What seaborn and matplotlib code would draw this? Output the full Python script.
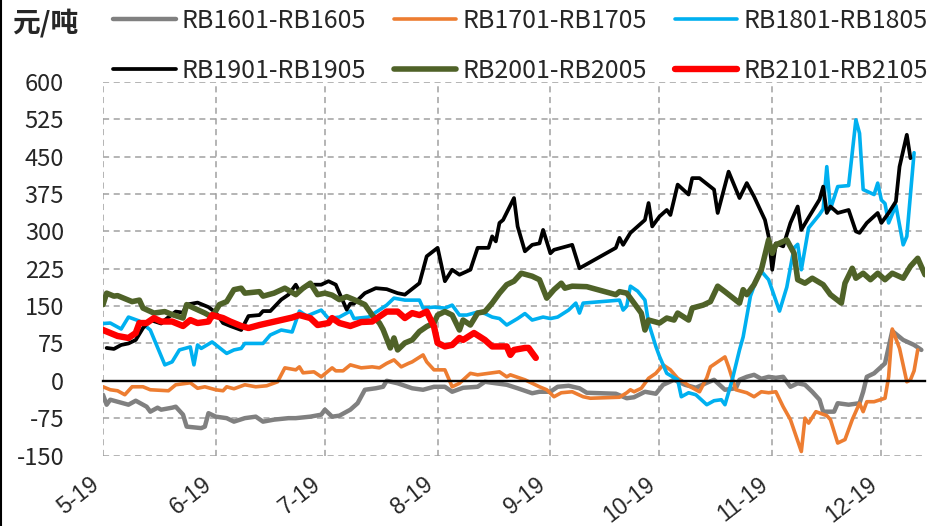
import pandas as pd
import matplotlib
matplotlib.use("Agg")
import matplotlib.pyplot as plt
import matplotlib.dates as mdates
import matplotlib.transforms as mtransforms
from matplotlib.lines import Line2D
import seaborn as sns

YEAR = "2020"

# spread series, dates as month-day
d1601 = ["05-19", "05-20", "05-21", "05-23", "05-26", "05-28", "05-31", "06-01", "06-03", "06-04",
         "06-07", "06-08", "06-10", "06-11", "06-15", "06-16", "06-17", "06-19", "06-22", "06-24",
         "06-27", "06-30", "07-02", "07-05", "07-09", "07-11", "07-15", "07-18", "07-19", "07-21",
         "07-23", "07-26", "07-28", "07-30", "08-02", "08-04", "08-05", "08-08", "08-12", "08-15",
         "08-18", "08-21", "08-23", "08-26", "08-30", "09-01", "09-05", "09-07", "09-10", "09-14",
         "09-16", "09-19", "09-21", "09-24", "09-27", "09-29", "10-07", "10-10", "10-12", "10-15",
         "10-18", "10-20", "10-23", "10-26", "10-29", "11-01", "11-03", "11-06", "11-09", "11-10",
         "11-12", "11-14", "11-16", "11-18", "11-20", "11-22", "11-24", "11-26", "11-28", "11-30",
         "12-02", "12-03", "12-06", "12-07", "12-10", "12-13", "12-14", "12-15", "12-17", "12-20",
         "12-22", "12-25", "12-28", "12-30"]
v1601 = [-28, -48, -38, -42, -48, -40, -52, -62, -54, -58,
         -54, -52, -68, -92, -95, -92, -65, -72, -75, -82,
         -75, -72, -82, -78, -75, -75, -72, -68, -58, -72,
         -70, -58, -45, -18, -15, -12, 0, -5, -15, -18,
         -12, -12, -22, -14, -12, -2, -6, -8, -15, -25,
         -22, -22, -12, -10, -15, -24, -26, -35, -33, -22,
         -26, -8, 2, -8, -14, -4, 2, -18, -15, 2,
         8, 12, 4, 8, 6, 8, -12, -5, -8, -22,
         -38, -62, -62, -45, -48, -45, -22, 8, 15, 35,
         100, 82, 72, 62]

d1701 = ["05-19", "05-21", "05-23", "05-25", "05-27", "05-30", "06-01", "06-06", "06-08", "06-12",
         "06-14", "06-16", "06-19", "06-21", "06-22", "06-24", "06-27", "06-30", "07-03", "07-06",
         "07-08", "07-11", "07-12", "07-13", "07-16", "07-18", "07-21", "07-22", "07-24", "07-26",
         "07-29", "08-01", "08-03", "08-05", "08-07", "08-09", "08-11", "08-12", "08-15", "08-16",
         "08-18", "08-21", "08-23", "08-25", "08-28", "08-30", "09-05", "09-07", "09-08", "09-12",
         "09-16", "09-18", "09-20", "09-22", "09-25", "09-28", "09-30", "10-08", "10-10", "10-11",
         "10-12", "10-14", "10-16", "10-18", "10-20", "10-22", "10-24", "10-26", "10-27", "10-30",
         "11-01", "11-02", "11-06", "11-07", "11-09", "11-12", "11-14", "11-16", "11-18", "11-20",
         "11-22", "11-24", "11-27", "11-28", "11-29", "12-01", "12-04", "12-05", "12-07", "12-09",
         "12-11", "12-13", "12-14", "12-15", "12-17", "12-20", "12-21", "12-22", "12-24", "12-26",
         "12-27", "12-28", "12-29"]
v1701 = [-12, -18, -20, -28, -12, -12, -18, -20, -8, -4,
         -15, -12, -18, -20, -12, -16, -8, -12, -10, -2,
         26, 22, 28, 16, 18, 8, 26, 20, 20, 32,
         26, 28, 26, 35, 42, 28, 35, 38, 52, 38,
         22, 22, -12, -5, 15, 12, 18, 8, 12, 2,
         -12, -18, -32, -24, -22, -32, -35, -33, -24, -18,
         -22, -15, 5, 15, 32, 22, 5, -4, -10, -22,
         6, 28, 48, 28, -18, -24, -32, -22, -24, -22,
         -52, -78, -142, -75, -85, -62, -70, -78, -125, -118,
         -78, -45, -62, -42, -42, -35, 8, 104, 65, -2,
         2, 20, 62]

d1801 = ["05-19", "05-21", "05-24", "05-26", "05-29", "06-01", "06-05", "06-07", "06-09", "06-12",
         "06-13", "06-14", "06-15", "06-18", "06-22", "06-24", "06-26", "06-27", "06-30", "07-02",
         "07-04", "07-07", "07-10", "07-12", "07-14", "07-18", "07-20", "07-23", "07-26", "07-27",
         "07-31", "08-05", "08-07", "08-10", "08-14", "08-15", "08-18", "08-21", "08-23", "08-25",
         "08-27", "08-30", "09-01", "09-03", "09-05", "09-07", "09-10", "09-12", "09-14", "09-17",
         "09-19", "09-21", "09-24", "09-26", "09-27", "09-28", "10-08", "10-09", "10-10", "10-11",
         "10-13", "10-15", "10-16", "10-18", "10-19", "10-21", "10-24", "10-25", "10-27", "10-29",
         "11-01", "11-03", "11-05", "11-06", "11-08", "11-10", "11-11", "11-13", "11-15", "11-16",
         "11-18", "11-21", "11-23", "11-25", "11-26", "11-27", "11-29", "12-02", "12-03", "12-04",
         "12-05", "12-07", "12-10", "12-12", "12-13", "12-14", "12-17", "12-18", "12-19", "12-20",
         "12-21", "12-23", "12-25", "12-26", "12-28"]
v1801 = [115, 116, 104, 128, 120, 102, 32, 38, 62, 68,
         32, 72, 65, 78, 55, 62, 65, 75, 75, 75,
         92, 102, 98, 140, 130, 142, 125, 128, 140, 125,
         128, 152, 166, 162, 162, 146, 148, 146, 152, 132,
         132, 138, 135, 128, 125, 112, 125, 135, 122, 128,
         125, 128, 142, 156, 136, 156, 162, 142, 150, 190,
         180, 162, 116, 69, 49, 15, 2, -32, -24, -28,
         -48, -40, -38, -48, 2, 62, 88, 170, 210, 220,
         203, 140, 188, 267, 274, 223, 307, 334, 345, 430,
         345, 390, 392, 524, 497, 384, 374, 397, 363, 356,
         317, 352, 273, 290, 458]

d1901 = ["05-20", "05-22", "05-24", "05-26", "05-28", "05-30", "06-01", "06-04", "06-05", "06-08",
         "06-10", "06-11", "06-14", "06-17", "06-19", "06-21", "06-23", "06-26", "06-28", "07-01",
         "07-02", "07-04", "07-07", "07-09", "07-11", "07-12", "07-14", "07-16", "07-18", "07-20",
         "07-22", "07-23", "07-25", "07-26", "07-27", "07-30", "08-02", "08-05", "08-08", "08-10",
         "08-14", "08-15", "08-16", "08-19", "08-21", "08-23", "08-25", "08-28", "08-30", "09-02",
         "09-03", "09-04", "09-05", "09-06", "09-09", "09-10", "09-12", "09-14", "09-16", "09-17",
         "09-19", "09-20", "09-25", "09-27", "10-07", "10-08", "10-09", "10-11", "10-13", "10-15",
         "10-16", "10-17", "10-19", "10-21", "10-22", "10-24", "10-27", "10-28", "10-30", "11-03",
         "11-04", "11-07", "11-10", "11-12", "11-14", "11-17", "11-18", "11-19", "11-20", "11-22",
         "11-24", "11-26", "11-27", "11-29", "12-02", "12-03", "12-04", "12-05", "12-07", "12-10",
         "12-12", "12-13", "12-15", "12-18", "12-19", "12-21", "12-23", "12-24", "12-26", "12-27"]
v1901 = [66, 64, 72, 75, 82, 106, 122, 115, 122, 139,
         137, 153, 157, 148, 137, 116, 110, 102, 130, 132,
         140, 140, 163, 173, 193, 180, 190, 193, 193, 200,
         193, 176, 143, 155, 155, 176, 186, 184, 176, 173,
         196, 223, 250, 267, 200, 223, 213, 223, 267, 267,
         290, 280, 317, 323, 367, 310, 260, 273, 276, 303,
         256, 263, 273, 226, 267, 287, 273, 297, 310, 323,
         357, 310, 330, 343, 333, 394, 374, 407, 407, 384,
         337, 420, 367, 397, 370, 323, 290, 223, 276, 270,
         317, 350, 303, 328, 364, 390, 337, 350, 337, 343,
         300, 297, 317, 337, 317, 337, 360, 430, 494, 447]

d2001 = ["05-19", "05-20", "05-22", "05-23", "05-25", "05-27", "05-29", "05-30", "06-02", "06-05",
         "06-07", "06-10", "06-11", "06-13", "06-16", "06-18", "06-20", "06-22", "06-24", "06-26",
         "06-27", "07-01", "07-02", "07-05", "07-08", "07-11", "07-13", "07-15", "07-17", "07-19",
         "07-21", "07-23", "07-25", "07-27", "07-30", "08-01", "08-03", "08-04", "08-06", "08-07",
         "08-08", "08-10", "08-12", "08-14", "08-16", "08-18", "08-19", "08-21", "08-23", "08-25",
         "08-26", "08-28", "08-30", "09-01", "09-03", "09-05", "09-07", "09-09", "09-11", "09-14",
         "09-16", "09-18", "09-20", "09-22", "09-23", "09-25", "09-29", "10-07", "10-08", "10-10",
         "10-12", "10-14", "10-15", "10-16", "10-19", "10-21", "10-23", "10-24", "10-27", "10-28",
         "10-31", "11-02", "11-04", "11-06", "11-10", "11-11", "11-12", "11-14", "11-16", "11-18",
         "11-19", "11-20", "11-23", "11-25", "11-26", "11-28", "11-30", "12-03", "12-05", "12-08",
         "12-09", "12-11", "12-12", "12-14", "12-16", "12-18", "12-20", "12-22", "12-25", "12-27",
         "12-29", "12-31"]
v2001 = [153, 176, 170, 171, 165, 159, 162, 146, 136, 139,
         133, 126, 153, 146, 136, 128, 153, 159, 183, 186,
         176, 179, 170, 176, 186, 173, 186, 196, 173, 176,
         172, 163, 169, 163, 153, 132, 116, 103, 66, 86,
         62, 76, 82, 99, 109, 116, 132, 139, 132, 102,
         122, 112, 136, 139, 156, 176, 193, 200, 216, 210,
         203, 166, 183, 196, 186, 190, 189, 173, 179, 176,
         156, 136, 102, 122, 116, 126, 122, 136, 122, 146,
         152, 159, 190, 179, 156, 183, 173, 193, 223, 283,
         256, 273, 283, 256, 203, 196, 206, 193, 173, 156,
         196, 226, 206, 216, 203, 216, 203, 216, 206, 230,
         246, 213]

d2101 = ["05-19", "05-20", "05-23", "05-26", "05-28", "05-29", "05-31", "06-02", "06-04", "06-07",
         "06-10", "06-12", "06-14", "06-17", "06-18", "06-21", "06-23", "06-26", "06-28", "07-01",
         "07-04", "07-07", "07-10", "07-12", "07-15", "07-17", "07-20", "07-21", "07-23", "07-26",
         "07-29", "08-01", "08-05", "08-08", "08-10", "08-12", "08-14", "08-16", "08-18", "08-19",
         "08-21", "08-23", "08-25", "08-26", "08-29", "09-01", "09-03", "09-07", "09-08", "09-09",
         "09-12", "09-13", "09-14", "09-15"]
v2101 = [102, 99, 90, 86, 96, 116, 116, 126, 119, 119,
         110, 122, 116, 119, 132, 126, 119, 110, 106, 112,
         117, 122, 127, 132, 126, 112, 116, 126, 116, 110,
         118, 119, 139, 139, 126, 136, 132, 139, 109, 76,
         69, 72, 86, 82, 96, 82, 69, 69, 52, 62,
         66, 66, 56, 46]

SERIES = ["RB1601-RB1605", "RB1701-RB1705", "RB1801-RB1805",
          "RB1901-RB1905", "RB2001-RB2005", "RB2101-RB2105"]
DATES = [d1601, d1701, d1801, d1901, d2001, d2101]
VALUES = [v1601, v1701, v1801, v1901, v2001, v2101]
COLORS = ["#808080", "#ED7D31", "#00B0F0", "#000000", "#4F6228", "#FF0000"]
WIDTHS = [3.2, 2.6, 2.6, 2.7, 4.0, 4.6]

TICK_DATES = ["05-19", "06-19", "07-19", "08-19", "09-19", "10-19", "11-19", "12-19"]
TICK_LABELS = ["5-19", "6-19", "7-19", "8-19", "9-19", "10-19", "11-19", "12-19"]
Y_TICKS = list(range(-150, 601, 75))


def to_dt(days):
    return pd.to_datetime([YEAR + "-" + s for s in days])


sns.set_style("white")
plt.rcParams["font.family"] = ["Noto Sans CJK SC", "DejaVu Sans"]
plt.rcParams["axes.unicode_minus"] = False

fig = plt.figure(figsize=(9.47, 5.26), dpi=100)
ax = fig.add_axes([103 / 947, 1 - 455.5 / 526, (925 - 103) / 947, (455.5 - 82) / 526])

for name, d, v, c, w in zip(SERIES, DATES, VALUES, COLORS, WIDTHS):
    sns.lineplot(x=to_dt(d), y=v, ax=ax, color=c, linewidth=w, label=name,
                 solid_joinstyle="round", solid_capstyle="round")

ax.set_xlim(pd.Timestamp(YEAR + "-05-19"), pd.Timestamp(YEAR + "-12-31"))
ax.set_ylim(-150, 600)
ax.set_yticks(Y_TICKS)
tick_pos = to_dt(TICK_DATES)
ax.set_xticks(tick_pos)
ax.set_xlabel("")
ax.set_ylabel("")

ax.grid(True, color="#a0a0a0", linestyle=(0, (4, 3)), linewidth=1.1)
for s in ["top", "right", "left"]:
    ax.spines[s].set_visible(False)
ax.spines["bottom"].set_position(("data", 0))
ax.spines["bottom"].set_color("black")
ax.spines["bottom"].set_linewidth(1.7)
ax.tick_params(axis="x", direction="out", length=5, width=1.7, color="black", labelbottom=False)
ax.tick_params(axis="y", length=0, labelsize=17, pad=28)

# month labels at the bottom of the plot
sec = ax.secondary_xaxis("bottom")
sec.set_xticks(mdates.date2num(tick_pos), labels=TICK_LABELS)
sec.tick_params(length=0, pad=19, labelsize=16.5)
sec.spines["bottom"].set_visible(False)

handles, labels = ax.get_legend_handles_labels()
ax.get_legend().remove()
order = [0, 3, 1, 4, 2, 5]
fig.legend([handles[i] for i in order], [labels[i] for i in order], ncol=3,
           loc="upper left", bbox_to_anchor=(113 / 947, 1 - 8 / 526), frameon=False,
           fontsize=18, handlelength=2.5, handletextpad=0.25, columnspacing=1.1,
           labelspacing=0.95, borderpad=0, borderaxespad=0)

fig.text(12 / 947, 1 - 23 / 526, "元/吨", fontsize=20, fontweight="bold", va="center", ha="left")
fig.add_artist(Line2D([0.0015, 0.0015], [0, 1], transform=fig.transFigure, color="black", lw=1.5))

fig.canvas.draw()
shift = mtransforms.ScaledTranslation(-7 / 100, 0, fig.dpi_scale_trans)
for lab in sec.get_xticklabels():
    lab.set(rotation=38, ha="right", va="center", rotation_mode="anchor", fontfamily="Liberation Sans")
    lab.set_transform(lab.get_transform() + shift)

fig.savefig("out.png", dpi=100)
